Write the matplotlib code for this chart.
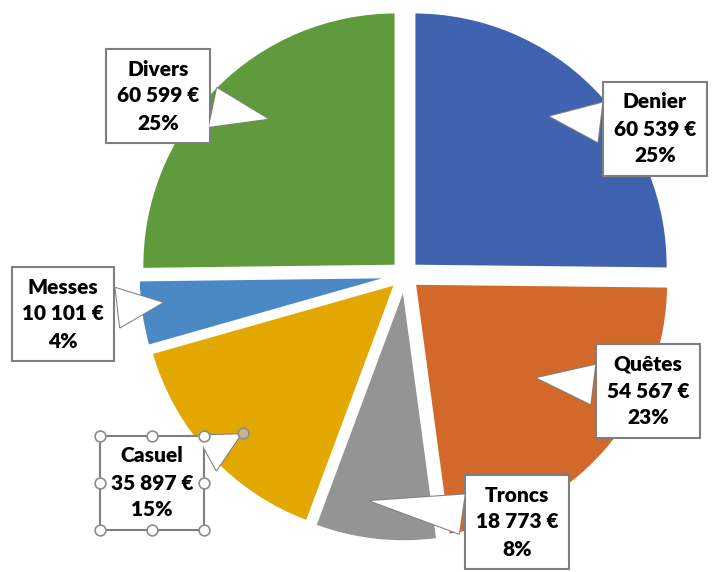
import numpy as np
import matplotlib
matplotlib.use("Agg")
import matplotlib.pyplot as plt

# données du graphique
categories = ["Denier", "Quêtes", "Troncs", "Casuel", "Messes", "Divers"]
montants = [60539, 54567, 18773, 35897, 10101, 60599]
pourcents = ["25%", "23%", "8%", "15%", "4%", "25%"]
couleurs = ["#3f63ae", "#d2692a", "#949494", "#e2a800", "#4a88c6", "#5f9a3c"]

# position des étiquettes (pixels), pointe de la bulle (fraction du rayon, décalage d'angle)
pos_etiq = [(655, 443), (648, 181), (517, 50), (152, 89), (63, 258), (158, 476)]
pointe_r = [0.79, 0.60, 0.85, 0.84, 0.90, 0.76]
pointe_da = [3.7, 3.3, -3.1, 1.7, -1.9, -4.8]

W, H = 714, 572
centre = (405, H - 275)
rayon = 254

fig = plt.figure(figsize=(W / 100, H / 100), dpi=100)
ax = fig.add_axes([0, 0, 1, 1])

wedges, _ = ax.pie(montants, colors=couleurs, startangle=90, counterclock=False,
                   explode=[0.05 * rayon] * len(montants), radius=rayon, center=centre,
                   wedgeprops=dict(edgecolor="white", linewidth=2))
ax.set_xlim(0, W)
ax.set_ylim(0, H)
ax.set_aspect("equal")
ax.axis("off")

def fmt(v):
    return f"{v:,}".replace(",", " ") + " €"

fleche = "wedge,tail_width=1.9,shrink_factor=0.5"
annots = []
for i, w in enumerate(wedges):
    ang = np.deg2rad((w.theta1 + w.theta2) / 2 + pointe_da[i])
    cx, cy = w.center
    tip = (cx + pointe_r[i] * rayon * np.cos(ang), cy + pointe_r[i] * rayon * np.sin(ang))
    texte = f"{categories[i]}\n{fmt(montants[i])}\n{pourcents[i]}"
    a = ax.annotate(texte, xy=tip, xytext=pos_etiq[i],
                    ha="center", va="center", fontsize=15, fontweight="heavy",
                    family=["Lato", "DejaVu Sans"], linespacing=1.5, color="black",
                    bbox=dict(boxstyle="square,pad=0.5", fc="white", ec="#7f7f7f", lw=1.5),
                    arrowprops=dict(arrowstyle=fleche, fc="white", ec="#7f7f7f", lw=1.5))
    annots.append(a)
    # remplissage blanc pour ouvrir le cadre à la base de la bulle
    ax.annotate("", xy=tip, xytext=pos_etiq[i], fontsize=15, zorder=4,
                arrowprops=dict(arrowstyle=fleche, fc="white", ec="none", lw=0,
                                patchA=a.get_bbox_patch()))

# poignées de sélection autour de l'étiquette "Casuel"
fig.canvas.draw()
sel = annots[categories.index("Casuel")]
bb = sel.get_bbox_patch().get_window_extent()
x0, x1, y0, y1 = bb.x0, bb.x1, bb.y0, bb.y1
xm, ym = (x0 + x1) / 2, (y0 + y1) / 2
hx = [x0, xm, x1, x0, x1, x0, xm, x1]
hy = [y0, y0, y0, ym, ym, y1, y1, y1]
ax.scatter(hx, hy, s=60, facecolor="white", edgecolor="#8c8c8c", linewidth=1.2,
           transform=None, zorder=10)
tx, ty = ax.transData.transform(sel.xy)
ax.scatter([tx], [ty], s=60, facecolor="#c9b48a", edgecolor="#8c8c8c", linewidth=1.2,
           transform=None, zorder=10)

fig.savefig("out.png", dpi=100)
